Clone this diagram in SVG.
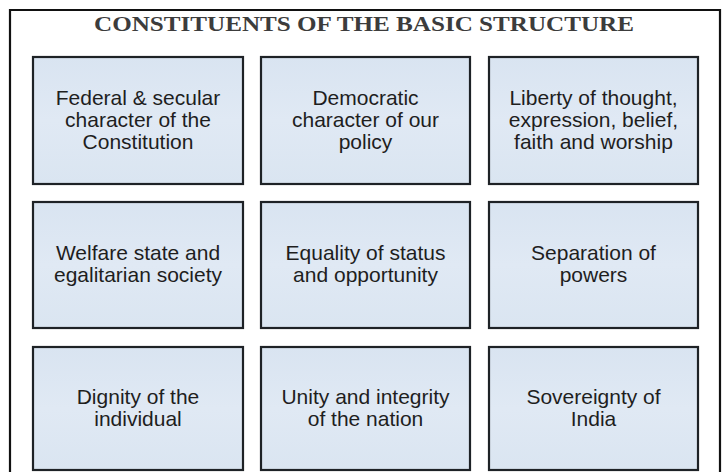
<svg xmlns="http://www.w3.org/2000/svg" width="723" height="472" viewBox="0 0 723 472">
<defs>
<linearGradient id="bx" x1="0" y1="0" x2="0" y2="1">
<stop offset="0" stop-color="#d9e4f1"/>
<stop offset="0.5" stop-color="#e0e9f4"/>
<stop offset="1" stop-color="#dae5f1"/>
</linearGradient>
<style>
.box{fill:url(#bx);stroke:#1e2226;stroke-width:2.2}
.t{font-family:"Liberation Sans",Arial,sans-serif;font-size:21px;fill:#1e1e1e;text-anchor:middle}
.title{font-family:"Liberation Serif","Times New Roman",serif;font-weight:bold;font-size:22px;fill:#3c3c3c;text-anchor:middle}
</style>
</defs>
<rect width="723" height="472" fill="#ffffff"/>
<path d="M10,472 V10 H720 V472" fill="none" stroke="#111" stroke-width="2.2"/>
<text class="title" x="364" y="31" textLength="540" lengthAdjust="spacingAndGlyphs">CONSTITUENTS OF THE BASIC STRUCTURE</text>

<g id="n1"><rect class="box" x="33" y="57" width="210" height="127"/>
<text class="t" x="138" y="105">Federal &amp; secular</text><text class="t" x="138" y="127">character of the</text><text class="t" x="138" y="149">Constitution</text></g>
<g id="n2"><rect class="box" x="261" y="57" width="209" height="127"/>
<text class="t" x="365.5" y="105">Democratic</text><text class="t" x="365.5" y="127">character of our</text><text class="t" x="365.5" y="149">policy</text></g>
<g id="n3"><rect class="box" x="489" y="57" width="209" height="127"/>
<text class="t" x="593.5" y="105">Liberty of thought,</text><text class="t" x="593.5" y="127">expression, belief,</text><text class="t" x="593.5" y="149">faith and worship</text></g>

<g id="n4"><rect class="box" x="33" y="202" width="210" height="126"/>
<text class="t" x="138" y="260">Welfare state and</text><text class="t" x="138" y="282">egalitarian society</text></g>
<g id="n5"><rect class="box" x="261" y="202" width="209" height="126"/>
<text class="t" x="365.5" y="260">Equality of status</text><text class="t" x="365.5" y="282">and opportunity</text></g>
<g id="n6"><rect class="box" x="489" y="202" width="209" height="126"/>
<text class="t" x="593.5" y="260">Separation of</text><text class="t" x="593.5" y="282">powers</text></g>

<g id="n7"><rect class="box" x="33" y="347" width="210" height="123"/>
<text class="t" x="138" y="404">Dignity of the</text><text class="t" x="138" y="426">individual</text></g>
<g id="n8"><rect class="box" x="261" y="347" width="209" height="123"/>
<text class="t" x="365.5" y="404">Unity and integrity</text><text class="t" x="365.5" y="426">of the nation</text></g>
<g id="n9"><rect class="box" x="489" y="347" width="209" height="123"/>
<text class="t" x="593.5" y="404">Sovereignty of</text><text class="t" x="593.5" y="426">India</text></g>
<g id="connectors"/>
</svg>
